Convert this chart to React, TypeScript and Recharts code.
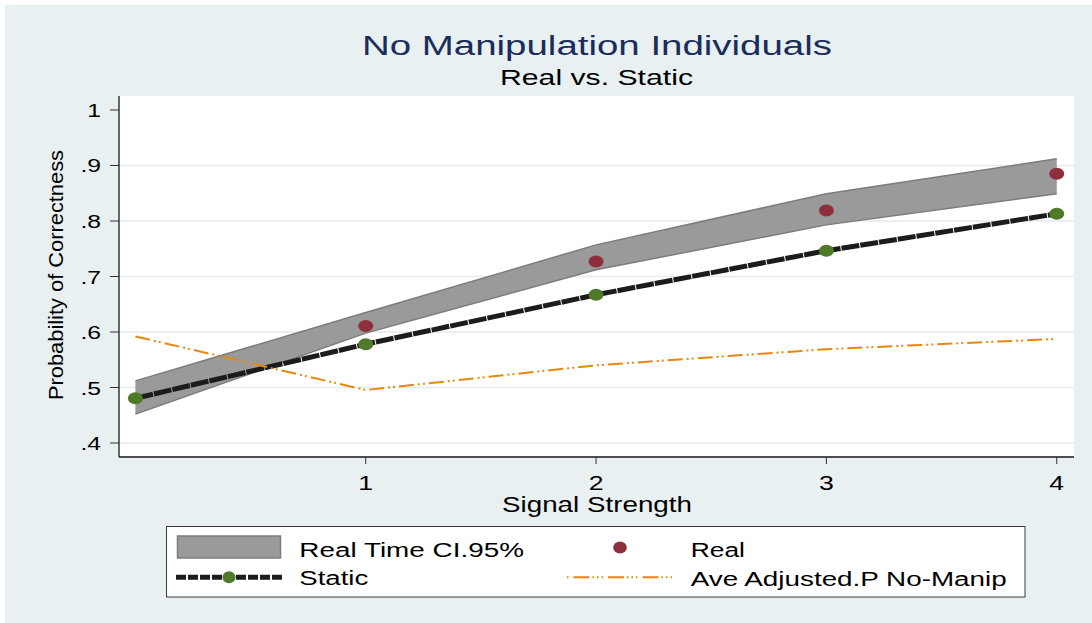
import React from 'react';
import { ComposedChart, Area, Line, XAxis, YAxis, CartesianGrid } from 'recharts';

const signal = [0, 1, 2, 3, 4];
const ciLow = [0.452, 0.598, 0.712, 0.793, 0.849];
const ciHigh = [0.512, 0.635, 0.757, 0.849, 0.912];
const realP = [null, 0.611, 0.727, 0.819, 0.885];
const staticP = [0.4805, 0.578, 0.667, 0.7465, 0.813];
const adjP = [0.592, 0.4955, 0.540, 0.569, 0.5875];

const yTicks = [0.4, 0.5, 0.6, 0.7, 0.8, 0.9, 1];
const yTickLabels = ['.4', '.5', '.6', '.7', '.8', '.9', '1'];
const xTicks = [1, 2, 3, 4];
const xTickLabels = ['1', '2', '3', '4'];

const data = signal.map((s, i) => ({
  x: s,
  ci: [ciLow[i], ciHigh[i]],
  real: realP[i],
  stat: staticP[i],
  adj: adjP[i],
}));

const FONT = "'Liberation Sans', Arial, Helvetica, sans-serif";
const BG = '#e8f0f2';
const GREEN = '#4f7a2a';
const RED = '#8f2f3b';
const ORANGE = '#e8870e';
const GRAYFILL = '#9a9a9a';
const GRAYLINE = '#7c7c7c';

function T(props: any) {
  const { x, y, fs, w, anchor = 'start', fill = '#000', rotate = false, children } = props;
  return (
    <text
      x={x}
      y={y}
      fontSize={fs}
      fontFamily={FONT}
      fill={fill}
      textAnchor={anchor}
      textLength={w}
      lengthAdjust="spacingAndGlyphs"
      transform={rotate ? `rotate(-90 ${x} ${y})` : undefined}
    >
      {children}
    </text>
  );
}

const YTick = (props: any) => {
  const { x, y, payload } = props;
  const idx = yTicks.findIndex((v) => Math.abs(v - payload.value) < 1e-9);
  return (
    <text
      x={0}
      y={0}
      transform={`translate(${x},${y + 7}) scale(1.3,1)`}
      textAnchor="end"
      fontSize={19}
      fontFamily={FONT}
      fill="#000"
    >
      {idx >= 0 ? yTickLabels[idx] : ''}
    </text>
  );
};

const XTick = (props: any) => {
  const { x, y, payload } = props;
  const idx = xTicks.findIndex((v) => v === payload.value);
  return (
    <text
      x={0}
      y={0}
      transform={`translate(${x},${y + 24}) scale(1.3,1)`}
      textAnchor="middle"
      fontSize={20.5}
      fontFamily={FONT}
      fill="#000"
    >
      {idx >= 0 ? xTickLabels[idx] : ''}
    </text>
  );
};

const GridLine = (p: any) => {
  // no grid line at the topmost tick (value 1), as in the reference
  if (p.y1 - p.y < 20) return <g key={p.key} />;
  return <line key={p.key} x1={p.x1} y1={p.y1} x2={p.x2} y2={p.y2} stroke="#e3ebee" strokeWidth={1.5} />;
};

const makeDot = (color: string) => (props: any) => {
  const { cx, cy, index } = props;
  if (cy == null || cx == null || isNaN(cy) || isNaN(cx)) return <g key={`d-${color}-${index}`} />;
  return <ellipse key={`d-${color}-${index}`} cx={cx} cy={cy} rx={7.5} ry={6} fill={color} />;
};

const GreenDot = makeDot(GREEN);
const RedDot = makeDot(RED);

export default function App() {
  return (
    <div style={{ position: 'absolute', left: 0, top: 0, width: 1092, height: 623, background: '#fff', overflow: 'hidden' }}>
      <div style={{ position: 'absolute', left: 5, top: 5, right: 0, bottom: 0, background: BG }} />
      <div style={{ position: 'absolute', left: 0, top: 0 }}>
        <ComposedChart width={1092} height={623} data={data} margin={{ top: 96, right: 18, bottom: 0, left: 0 }}>
          <CartesianGrid fill="#ffffff" horizontal={GridLine} vertical={false} />
          <XAxis
            dataKey="x"
            type="number"
            domain={[-0.0712, 4.075]}
            ticks={xTicks}
            allowDataOverflow
            height={166}
            tickSize={7}
            tickMargin={2}
            tick={<XTick />}
            axisLine={{ stroke: '#1a1a1a', strokeWidth: 1.3 }}
            tickLine={{ stroke: '#333', strokeWidth: 1 }}
          />
          <YAxis
            type="number"
            domain={[0.3748, 1.0252]}
            ticks={yTicks}
            allowDataOverflow
            width={119}
            tickSize={9}
            tickMargin={9}
            tick={<YTick />}
            axisLine={{ stroke: '#1a1a1a', strokeWidth: 1.3 }}
            tickLine={{ stroke: '#333', strokeWidth: 1 }}
          />
          <Area
            dataKey="ci"
            type="linear"
            fill={GRAYFILL}
            fillOpacity={1}
            stroke={GRAYLINE}
            strokeWidth={1.5}
            dot={false}
            activeDot={false}
            isAnimationActive={false}
          />
          <Line
            dataKey="real"
            type="linear"
            stroke="none"
            dot={RedDot}
            activeDot={false}
            isAnimationActive={false}
          />
          <Line
            dataKey="stat"
            type="linear"
            stroke="#1c1c1c"
            strokeWidth={5}
            strokeDasharray="18 1"
            dot={GreenDot}
            activeDot={false}
            isAnimationActive={false}
          />
          <Line
            dataKey="adj"
            type="linear"
            stroke={ORANGE}
            strokeWidth={2}
            strokeDasharray="15 4 2 3 2 4"
            dot={false}
            activeDot={false}
            isAnimationActive={false}
          />
        </ComposedChart>
      </div>
      <svg width={1092} height={623} style={{ position: 'absolute', left: 0, top: 0, pointerEvents: 'none' }}>
        <T x={597} y={55} fs={27} w={470} anchor="middle" fill="#1b2d5b">No Manipulation Individuals</T>
        <T x={596.5} y={85} fs={22} w={193} anchor="middle">Real vs. Static</T>
        <T x={597} y={511.5} fs={21.5} w={190} anchor="middle">Signal Strength</T>
        <T x={62.5} y={275} fs={20.5} w={250} anchor="middle" rotate>Probability of Correctness</T>

        <rect x={166.5} y={526.5} width={858.5} height={70.5} fill="#fff" stroke="#3a3a3a" strokeWidth={1} />
        <rect x={177.5} y={536} width={103} height={22} fill={GRAYFILL} stroke={GRAYLINE} strokeWidth={1.5} />
        <T x={299.3} y={556.7} fs={19.5} w={224.7}>Real Time CI.95%</T>
        <line x1={176} y1={577.3} x2={284} y2={577.3} stroke="#1c1c1c" strokeWidth={5} strokeDasharray="10 2" />
        <ellipse cx={229} cy={577.3} rx={6.5} ry={6} fill={GREEN} />
        <T x={299.3} y={585} fs={19.5} w={69}>Static</T>
        <ellipse cx={620} cy={547.5} rx={6.8} ry={6} fill={RED} />
        <T x={690.7} y={556.5} fs={19.5} w={54.3}>Real</T>
        <line x1={567} y1={577.3} x2={673} y2={577.3} stroke={ORANGE} strokeWidth={2} strokeDasharray="1.5 5 16 3 1.5 3 1.5 3" />
        <T x={690.7} y={586} fs={19.5} w={316}>Ave Adjusted.P No-Manip</T>
      </svg>
    </div>
  );
}
